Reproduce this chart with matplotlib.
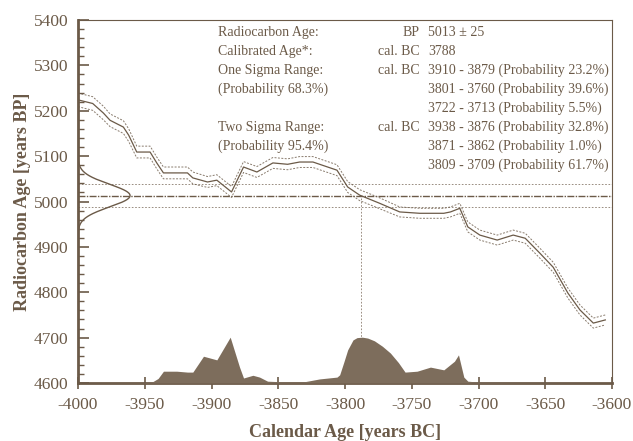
import numpy as np
import matplotlib.pyplot as plt
from matplotlib.ticker import MultipleLocator

plt.rcParams['font.family'] = ['Liberation Serif', 'DejaVu Serif']

INK = '#6b5a48'
FILL = '#7d6d5c'

# measured radiocarbon date
bp_mean = 5013
bp_sigma = 25
cal_age = -3788

# calibration curve (calendar year, BP, 1-sigma)
cal_years = [-4000, -3989, -3981, -3976, -3966, -3962, -3956, -3946, -3941, -3936,
             -3918, -3914, -3903, -3896, -3885, -3876, -3866, -3854, -3843, -3834,
             -3824, -3806, -3798, -3789, -3774, -3759, -3744, -3726, -3721, -3714,
             -3708, -3699, -3686, -3674, -3665, -3654, -3644, -3633, -3624, -3614,
             -3605]
cal_bp = [5224, 5216, 5195, 5179, 5164, 5146, 5109, 5109, 5085, 5063,
          5063, 5052, 5043, 5047, 5021, 5076, 5065, 5085, 5082, 5087,
          5087, 5069, 5032, 5014, 4996, 4977, 4974, 4974, 4977, 4985,
          4944, 4926, 4915, 4926, 4919, 4886, 4855, 4798, 4761, 4732,
          4739]
cal_err = [15, 15, 15, 14, 14, 14, 13, 13, 13, 13,
           13, 13, 12, 12, 12, 12, 12, 12, 12, 12,
           12, 12, 12, 12, 12, 11, 11, 11, 11, 11,
           11, 11, 11, 11, 11, 11, 11, 11, 11, 11,
           11]

# calibrated probability distribution (height above 4600)
prob_years = [-4000, -3950, -3944, -3940, -3936, -3926, -3918, -3914, -3906, -3896,
              -3886, -3879, -3876, -3869, -3864, -3858, -3850, -3830, -3819, -3806,
              -3804, -3801, -3798, -3794, -3791, -3787, -3783, -3778, -3772, -3766,
              -3760, -3755, -3746, -3736, -3726, -3718, -3715, -3711, -3708, -3700,
              -3680, -3600]
prob_height = [0, 1, 3, 10, 26, 26, 24, 24, 59, 51,
               101, 35, 11, 17, 13, 4, 3, 3, 9, 13,
               18, 45, 73, 95, 100, 101, 99, 93, 81, 66,
               45, 24, 26, 35, 29, 48, 62, 13, 4, 2,
               1, 0]

info_left = ['Radiocarbon Age:', 'Calibrated Age*:', 'One Sigma Range:',
             '(Probability 68.3%)', '', 'Two Sigma Range:', '(Probability 95.4%)', '']
info_unit = ['BP', 'cal. BC', 'cal. BC', '', '', 'cal. BC', '', '']
info_value = ['5013 \u00b1 25', '3788',
              '3910 - 3879 (Probability 23.2%)',
              '3801 - 3760 (Probability 39.6%)',
              '3722 - 3713 (Probability 5.5%)',
              '3938 - 3876 (Probability 32.8%)',
              '3871 - 3862 (Probability 1.0%)',
              '3809 - 3709 (Probability 61.7%)']

fig = plt.figure(figsize=(6.33, 4.41), dpi=100)
ax = fig.add_axes([78 / 633, 1 - 383 / 441, 534 / 633, 363 / 441])
ax.set_xlim(-4000, -3600)
ax.set_ylim(4600, 5400)

cy = np.array(cal_bp)
ce = np.array(cal_err)
ax.plot(cal_years, cy, color=INK, lw=0.9)
ax.plot(cal_years, cy + ce, color=INK, lw=0.7, ls=(0, (2, 1.5)), alpha=0.8)
ax.plot(cal_years, cy - ce, color=INK, lw=0.7, ls=(0, (2, 1.5)), alpha=0.8)

# measured value and its 1-sigma bounds
ax.axhline(bp_mean, color=INK, lw=1.0, ls=(0, (5, 1, 1, 1)))
ax.axhline(bp_mean + bp_sigma, color=INK, lw=0.6, ls=(0, (2, 2)), alpha=0.8)
ax.axhline(bp_mean - bp_sigma, color=INK, lw=0.6, ls=(0, (2, 2)), alpha=0.8)
ax.plot([cal_age, cal_age], [4600, bp_mean], color=INK, lw=0.6, ls=(0, (2, 2)), alpha=0.8)

# gaussian of the radiocarbon date drawn along the y axis
g_bp = np.linspace(bp_mean - 3.3 * bp_sigma, bp_mean + 3.3 * bp_sigma, 200)
g_w = 39 * np.exp(-0.5 * ((g_bp - bp_mean) / bp_sigma) ** 2)
ax.plot(-4000 + g_w, g_bp, color=INK, lw=1.0)

# calibrated distribution
ax.fill_between(prob_years, 4600, 4600 + np.array(prob_height), color=FILL, lw=0, zorder=3)

for i in range(len(info_value)):
    y = 5373 - i * 41.8
    if info_left[i]:
        ax.text(-3895, y, info_left[i], color=INK, fontsize=10, va='center', ha='left')
    if info_unit[i]:
        ax.text(-3744, y, info_unit[i], color=INK, fontsize=10, va='center', ha='right')
    ax.text(-3738, y, info_value[i], color=INK, fontsize=10, va='center', ha='left')

ax.xaxis.set_major_locator(MultipleLocator(50))
ax.yaxis.set_major_locator(MultipleLocator(100))
ax.yaxis.set_minor_locator(MultipleLocator(20))
ax.tick_params(axis='y', which='major', direction='in', length=8, width=1.2, color=INK,
               labelcolor=INK, labelsize=12.5, pad=7)
ax.tick_params(axis='y', which='minor', direction='in', length=4, width=1, color=INK)
ax.tick_params(axis='x', which='major', direction='inout', length=8, width=1.2, color=INK,
               labelcolor=INK, labelsize=12.5, pad=6)
ax.set_xticklabels([f'{int(v)}' for v in ax.get_xticks()])

for side in ['left', 'bottom']:
    ax.spines[side].set_color(INK)
    ax.spines[side].set_linewidth(2.0)
for side in ['top', 'right']:
    ax.spines[side].set_color(INK)
    ax.spines[side].set_linewidth(0.8)

ax.set_xlabel('Calendar Age [years BC]', color=INK, fontsize=13, fontweight='bold', labelpad=8)
ax.set_ylabel('Radiocarbon Age [years BP]', color=INK, fontsize=13, fontweight='bold', labelpad=2)

fig.savefig('out.png', dpi=100)
